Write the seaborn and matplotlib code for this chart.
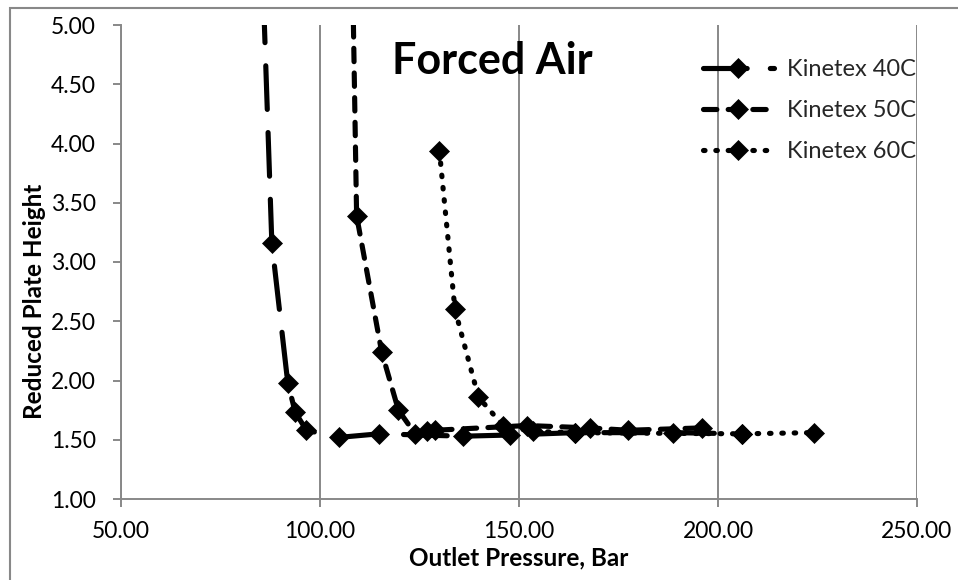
import matplotlib
matplotlib.use("Agg")
import matplotlib.pyplot as plt
from matplotlib.patches import Rectangle
import seaborn as sns

# Outlet pressure (bar) and reduced plate height for each column temperature
p_40c = [84.5, 87.9, 91.9, 93.8, 96.6, 104.8, 114.8, 136.0, 147.7, 164.0, 188.8, 206.0]
h_40c = [6.50, 3.16, 1.98, 1.73, 1.58, 1.52, 1.55, 1.53, 1.54, 1.56, 1.56, 1.55]

p_50c = [107.6, 109.2, 115.5, 119.7, 123.9, 126.8, 128.9, 152.0, 167.8, 177.5, 195.9]
h_50c = [6.60, 3.39, 2.24, 1.75, 1.55, 1.57, 1.58, 1.62, 1.60, 1.58, 1.60]

p_60c = [130.0, 133.9, 139.8, 146.0, 153.5, 164.0, 206.0, 224.0]
h_60c = [3.94, 2.60, 1.86, 1.62, 1.57, 1.56, 1.55, 1.56]

series_labels = ["Kinetex 40C", "Kinetex 50C", "Kinetex 60C"]
x_ticks = [50.0, 100.0, 150.0, 200.0, 250.0]
y_ticks = [1.0, 1.5, 2.0, 2.5, 3.0, 3.5, 4.0, 4.5, 5.0]

sns.set_theme(style="white")
plt.rcParams["font.family"] = ["Lato", "DejaVu Sans"]

GRID = "#888888"

fig = plt.figure(figsize=(9.58, 5.80), dpi=100)
ax = fig.add_axes([121 / 958, 1 - 499 / 580, (917 - 121) / 958, (499 - 25) / 580])

styles = [
    (0, (8.5, 4.5)),   # long dash
    (0, (2.6, 2.2)),   # dash
    (0, (0.3, 2.1)),   # round dot
]
for px, hy, lab, ls in zip([p_40c, p_50c, p_60c], [h_40c, h_50c, h_60c], series_labels, styles):
    sns.lineplot(x=px, y=hy, ax=ax, color="black", linewidth=3.7, linestyle=ls,
                 dash_capstyle="round", solid_capstyle="round", marker="D", markersize=10,
                 markeredgecolor="black", markerfacecolor="black", markeredgewidth=0.5,
                 estimator=None, sort=False, label=lab)

ax.set_xlim(50, 250)
ax.set_ylim(1.0, 5.0)
ax.set_xticks(x_ticks)
ax.set_yticks(y_ticks)
ax.xaxis.set_major_formatter(matplotlib.ticker.FormatStrFormatter("%.2f"))
ax.yaxis.set_major_formatter(matplotlib.ticker.FormatStrFormatter("%.2f"))

ax.grid(False)
ax.xaxis.grid(True, color=GRID, linewidth=1.4)
ax.set_axisbelow(True)

for side in ["top", "right"]:
    ax.spines[side].set_visible(False)
for side in ["left", "bottom"]:
    ax.spines[side].set_color(GRID)
    ax.spines[side].set_linewidth(1.4)

ax.tick_params(axis="both", which="major", direction="out", length=6, width=1.4,
               color=GRID, labelsize=16.5, labelcolor="black")
ax.tick_params(axis="y", pad=12)
ax.tick_params(axis="x", pad=10)
ax.tick_params(left=True, bottom=True)

ax.set_xlabel("Outlet Pressure, Bar", fontsize=17.5, fontweight="bold", color="black")
ax.set_ylabel("Reduced Plate Height", fontsize=17.5, fontweight="bold", color="black")
ax.xaxis.set_label_coords(0.5, -0.099)
ax.yaxis.set_label_coords(-0.094, 0.418)

ax.text(392 / 958, 1 - 74 / 580, "Forced Air", transform=fig.transFigure,
        fontsize=31, fontweight="bold", color="black", ha="left", va="baseline")

leg = ax.legend(loc="upper left", bbox_to_anchor=(703 / 958, 1 - 59 / 580),
                bbox_transform=fig.transFigure, frameon=False, fontsize=17,
                handlelength=3.0, handletextpad=0.55, labelspacing=0.85,
                borderpad=0, borderaxespad=0, numpoints=1)

# Chart-area frame (left and top edges)
fig.add_artist(Rectangle((10 / 958, -0.1), 1.2, 1 - 8 / 580 + 0.1,
                         transform=fig.transFigure, fill=False,
                         edgecolor=GRID, linewidth=1.5))

fig.savefig("out.png", dpi=100)
